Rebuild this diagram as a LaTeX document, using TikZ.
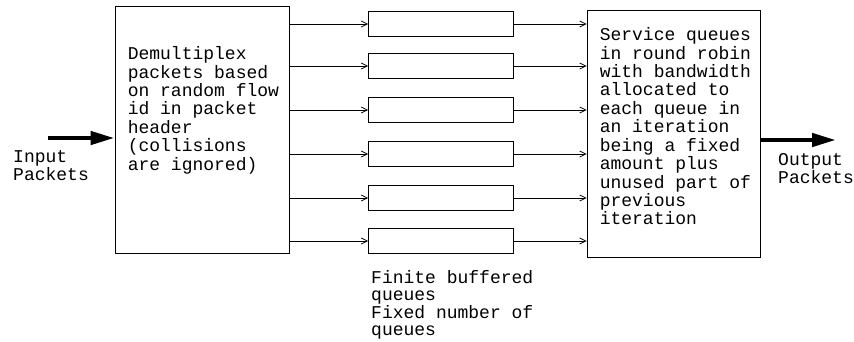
\documentclass[tikz,border=0pt]{standalone}
\usepackage{fontspec}
\setmainfont{Liberation Mono}
\usetikzlibrary{arrows.meta,positioning}
\tikzset{
  box/.style={draw, rectangle, line width=0.9pt, inner sep=0pt},
  txt/.style={font=\fontsize{18}{18.4}\selectfont, align=left, inner sep=0pt},
  thinarrow/.style={-{Straight Barb[length=6pt,width=6pt]}, line width=0.8pt},
  fatarrow/.style={-{Triangle[length=24pt,width=13pt]}, line width=4.5pt},
}
\begin{document}
\begin{tikzpicture}[x=1pt, y=-1pt]
    \useasboundingbox (0,0) rectangle (854,341);

    % the two big blocks
    \node[box, minimum width=174pt, minimum height=247pt] (demux) at (202,129.5) {};
    \node[box, minimum width=173pt, minimum height=247pt] (service) at (673.5,133.5) {};
    \node[txt, anchor=north west] (demuxtxt) at ([xshift=13pt, yshift=-41pt]demux.north west)
        {Demultiplex\\packets based\\on random flow\\id in packet\\header\\(collisions\\are ignored)};
    \node[txt, anchor=north west] (servicetxt) at ([xshift=13pt, yshift=-18pt]service.north west)
        {Service queues\\in round robin\\with bandwidth\\allocated to\\each queue in\\an iteration\\being a fixed\\amount plus\\unused part of\\previous\\iteration};

    % queues
    \foreach \i/\y in {1/24, 2/66, 3/110, 4/154, 5/198, 6/241}
        \node[box, minimum width=145pt, minimum height=25pt] (q\i) at (441,\y) {};
    \foreach \i in {1,...,6} {
        \draw[thinarrow] (demux.east |- q\i.west) -- (q\i.west);
        \draw[thinarrow] (q\i.east) -- (q\i.east -| service.west);
    }

    % in and out
    \coordinate (inpt) at (48,138);
    \coordinate (outpt) at (836,140);
    \draw[fatarrow] (inpt) -- (inpt -| demux.west);
    \draw[fatarrow] (outpt -| service.east) -- (outpt);
    \node[txt, anchor=north west] (inlbl) at (13,150) {Input\\Packets};
    \node[txt, anchor=north west] (outlbl) at (778,153) {Output\\Packets};

    \node[txt, anchor=north west, font=\fontsize{18}{17.5}\selectfont] (qlbl) at (371,270)
        {Finite buffered\\queues\\Fixed number of\\queues};
\end{tikzpicture}
\end{document}
